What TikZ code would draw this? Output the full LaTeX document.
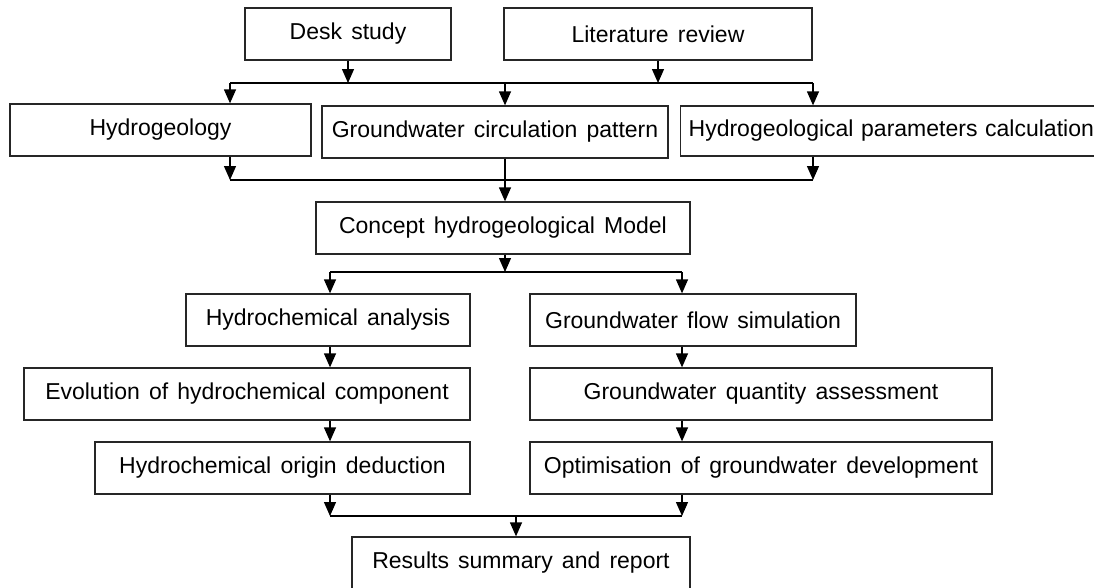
\documentclass[tikz,border=0pt]{standalone}
\usepackage{fontspec}
\setmainfont{Liberation Sans}
\usetikzlibrary{arrows.meta}

\newcommand{\boxfont}{\fontsize{23}{27}\selectfont\spaceskip=0.4em\relax}

\tikzset{
    box/.style={draw=black!85, line width=1.3pt, inner sep=0pt, minimum height=52pt,
        font=\boxfont},
    arr/.style={-{Triangle[length=14pt, width=12pt]}, line width=1.3pt},
    bar/.style={line width=1.3pt}
}

\begin{document}
\begin{tikzpicture}[x=1pt, y=-1pt]
\useasboundingbox (0,0) rectangle (1094,587);

% Draw boxes.
\node[box, minimum width=206pt] (desk) at (348,34) {Desk study};
\node[box, minimum width=308pt] (lit) at (658,34) {Literature review};
\node[box, minimum width=301pt] (hydro) at (160.5,130) {Hydrogeology};
\node[box, minimum width=346pt] (circ) at (495,132) {Groundwater circulation pattern};
\node[box, anchor=west, minimum height=50pt, inner xsep=8pt, text width=420pt, align=left]
    (param) at (680,131) {Hydrogeological parameters calculation};
\node[box, minimum width=374pt] (concept) at (503,228) {Concept hydrogeological Model};
\node[box, minimum width=284pt] (hca) at (328,320) {Hydrochemical analysis};
\node[box, minimum width=326pt] (gfs) at (693,320) {Groundwater flow simulation};
\node[box, minimum width=446pt] (evo) at (247,394) {Evolution of hydrochemical component};
\node[box, minimum width=462pt] (gqa) at (761,394) {Groundwater quantity assessment};
\node[box, minimum width=375pt] (hod) at (282.5,468) {Hydrochemical origin deduction};
\node[box, minimum width=462pt] (opt) at (761,468) {Optimisation of groundwater development};
\node[box, minimum width=338pt] (res) at (521,563) {Results summary and report};

% Draw top bar.
\coordinate (t1) at (230,83);
\coordinate (t2) at (505,83);
\coordinate (t3) at (813,83);
\draw[arr] (desk.south) -- (desk.south |- t1);
\draw[arr] (lit.south) -- (lit.south |- t1);
\draw[bar] (t1) -- (t3);
\draw[arr] (t1) -- (t1 |- hydro.north);
\draw[arr] (t2) -- (t2 |- circ.north);
\draw[arr] (t3) -- (t3 |- param.north);

% Draw middle bar.
\coordinate (m1) at (230,180);
\coordinate (m3) at (813,180);
\draw[arr] (m1 |- hydro.south) -- (m1);
\draw[arr] (m3 |- param.south) -- (m3);
\draw[bar] (m1) -- (m3);
\draw[arr] (t2 |- circ.south) -- (t2 |- concept.north);

% Draw split bar.
\coordinate (s1) at (330,272);
\coordinate (s2) at (682,272);
\draw[arr] (t2 |- concept.south) -- (t2 |- s1);
\draw[bar] (s1) -- (s2);
\draw[arr] (s1) -- (s1 |- hca.north);
\draw[arr] (s2) -- (s2 |- gfs.north);

% Draw columns.
\foreach \a/\b in {hca/evo, evo/hod}
    \draw[arr] (s1 |- \a.south) -- (s1 |- \b.north);
\foreach \a/\b in {gfs/gqa, gqa/opt}
    \draw[arr] (s2 |- \a.south) -- (s2 |- \b.north);

% Draw bottom bar.
\coordinate (e1) at (330,516);
\coordinate (e0) at (516,516);
\coordinate (e2) at (682,516);
\draw[arr] (s1 |- hod.south) -- (e1);
\draw[arr] (s2 |- opt.south) -- (e2);
\draw[bar] (e1) -- (e2);
\draw[arr] (e0) -- (e0 |- res.north);

\end{tikzpicture}
\end{document}
